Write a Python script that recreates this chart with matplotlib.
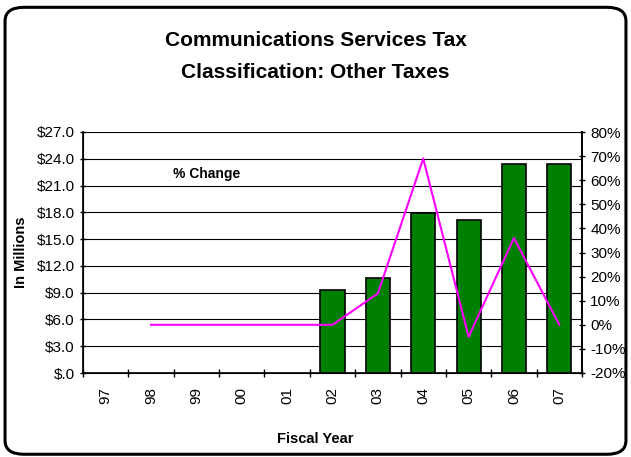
import matplotlib.pyplot as plt
from matplotlib.patches import FancyBboxPatch

plt.rcParams['font.family'] = ['Liberation Sans', 'DejaVu Sans']

years = ['97', '98', '99', '00', '01', '02', '03', '04', '05', '06', '07']
revenue = [None, None, None, None, None, 9.3, 10.6, 17.9, 17.1, 23.4, 23.4]
pct_change = [None, 0, 0, 0, 0, 0, 13, 69, -5, 36, 0]

fig = plt.figure(figsize=(6.31, 4.57), dpi=100)
ax = fig.add_axes([83/631, 1 - 373/457, (582-83)/631, (373-132)/457])

# rounded frame around whole chart
frame = FancyBboxPatch((0.008, 0.006), 0.984, 0.978, boxstyle='round,pad=0,rounding_size=0.03',
                       transform=fig.transFigure, fill=False, lw=2.2, ec='black', zorder=0)
fig.patches.append(frame)

x = list(range(len(years)))
bx = [i for i, v in zip(x, revenue) if v is not None]
bv = [v for v in revenue if v is not None]
ax.bar(bx, bv, width=0.53, color='#008000', edgecolor='black', lw=1.2, zorder=3)

ax.set_xlim(-0.5, len(years) - 0.5)
ax.set_ylim(0, 27)
ax.set_yticks([i * 3 for i in range(10)])
ax.set_yticklabels(['$.0'] + [f'${v:.1f}' for v in range(3, 28, 3)])
ax.yaxis.grid(True, color='black', lw=0.8, zorder=0)
ax.set_axisbelow(True)

ax.set_xticks(x)
ax.set_xticklabels(years, rotation=90)
ax.set_xticks([i + 0.5 for i in range(-1, len(years))], minor=True)
ax.tick_params(axis='x', which='major', length=0, pad=10)
ax.tick_params(axis='x', which='minor', length=6, direction='inout', width=1)
ax.tick_params(axis='y', length=5, direction='inout', width=1, labelsize=11)
ax.tick_params(axis='x', labelsize=11)

ax.spines['top'].set_visible(False)
for s in ['left', 'bottom', 'right']:
    ax.spines[s].set_linewidth(1.2)

ax2 = ax.twinx()
lx = [i for i, v in zip(x, pct_change) if v is not None]
lv = [v for v in pct_change if v is not None]
ax2.plot(lx, lv, color='#ff00ff', lw=1.5, zorder=4)
ax2.set_ylim(-20, 80)
ax2.set_yticks(range(-20, 81, 10))
ax2.set_yticklabels([f'{v}%' for v in range(-20, 81, 10)])
ax2.tick_params(axis='y', length=5, direction='inout', width=1, labelsize=11)
ax2.spines['top'].set_visible(False)
ax2.spines['right'].set_linewidth(1.2)

ax.text(0.18, 0.81, '% Change', transform=ax.transAxes, fontsize=10, fontweight='bold')

ax.set_ylabel('In Millions', fontsize=10.5, fontweight='bold', labelpad=6)
fig.text(0.5, 0.03, 'Fiscal Year', ha='center', fontsize=10.5, fontweight='bold')
fig.text(0.5, 1 - 40/457, 'Communications Services Tax', ha='center', va='center',
         fontsize=15, fontweight='bold')
fig.text(0.5, 1 - 73/457, 'Classification: Other Taxes', ha='center', va='center',
         fontsize=15, fontweight='bold')

fig.savefig('out.png', dpi=100)
